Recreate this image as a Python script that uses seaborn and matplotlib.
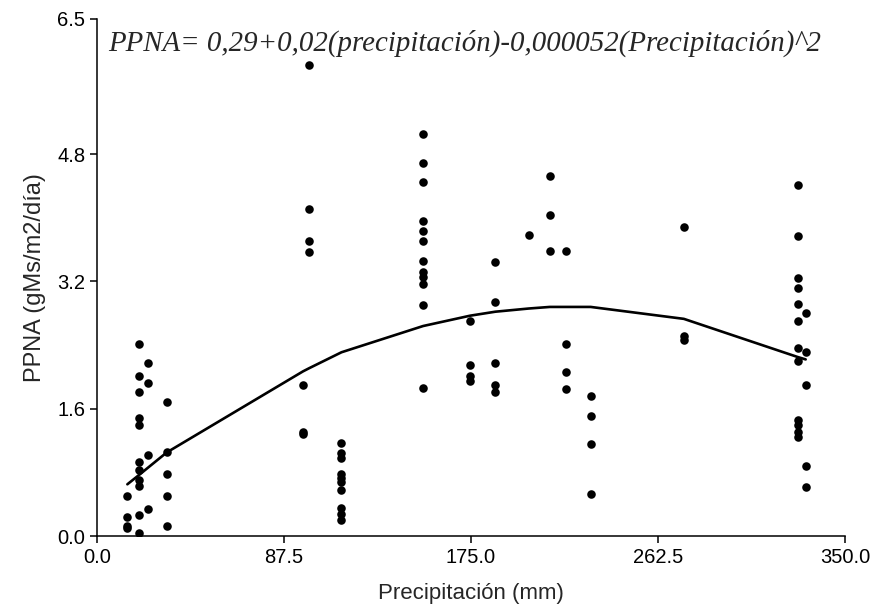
import matplotlib
matplotlib.use("Agg")
import matplotlib.pyplot as plt
import seaborn as sns
import pandas as pd

# ---- data ----
precip_groups = [14.2, 19.8, 23.9, 32.6, 96.4, 99.3, 114.4, 152.6, 174.6,
                 186.4, 202.0, 211.9, 219.4, 231.0, 274.6, 327.9, 331.6]
ppna_groups = [
    [0.50, 0.24, 0.13, 0.10],
    [2.41, 2.01, 1.81, 1.48, 1.39, 0.93, 0.83, 0.71, 0.63, 0.27, 0.04],
    [2.18, 1.92, 1.02, 0.34],
    [1.69, 1.05, 0.78, 0.50, 0.12],
    [1.90, 1.31, 1.28],
    [5.92, 4.11, 3.71, 3.57],
    [1.17, 1.04, 0.98, 0.78, 0.73, 0.68, 0.58, 0.35, 0.28, 0.20],
    [5.06, 4.69, 4.45, 3.96, 3.83, 3.71, 3.46, 3.32, 3.26, 3.17, 2.90, 1.86],
    [2.70, 2.15, 2.01, 1.95],
    [3.44, 2.94, 2.17, 1.90, 1.81],
    [3.78],
    [4.53, 4.03, 3.58],
    [3.58, 2.42, 2.06, 1.85],
    [1.76, 1.51, 1.16, 0.53],
    [3.88, 2.51, 2.47],
    [4.41, 3.77, 3.25, 3.12, 2.92, 2.70, 2.36, 2.20, 1.46, 1.40, 1.31, 1.25],
    [2.80, 2.31, 1.90, 0.88, 0.62],
]
fit_ppna = [0.65, 0.77, 0.86, 1.05, 2.07, 2.11, 2.31, 2.64, 2.77, 2.82,
            2.86, 2.88, 2.88, 2.88, 2.73, 2.25, 2.22]

x_ticks = [0.0, 87.5, 175.0, 262.5, 350.0]
y_ticks = [0.0, 1.6, 3.2, 4.8, 6.5]
equation = "PPNA= 0,29+0,02(precipitación)-0,000052(Precipitación)^2"

points = pd.DataFrame({
    "precip": [x for x, ys in zip(precip_groups, ppna_groups) for _ in ys],
    "ppna": [y for ys in ppna_groups for y in ys],
})
fit = pd.DataFrame({"precip": precip_groups, "ppna": fit_ppna})

# ---- figure ----
sns.set_style("ticks")
plt.rcParams["font.family"] = ["Liberation Sans", "DejaVu Sans"]

fig = plt.figure(figsize=(8.75, 6.09), dpi=100)
ax = fig.add_axes([97 / 875, 73 / 609, 748 / 875, 517 / 609])

sns.lineplot(data=fit, x="precip", y="ppna", ax=ax, color="black",
             linewidth=1.9, estimator=None, sort=True)
sns.scatterplot(data=points, x="precip", y="ppna", ax=ax, color="black",
                s=38, edgecolor="black", linewidth=0, zorder=3)

ax.set_xlim(0, 350)
ax.set_ylim(0, 6.5)
ax.set_xticks(x_ticks)
ax.set_xticklabels([f"{v:.1f}" for v in x_ticks])
ax.set_yticks(y_ticks)
ax.set_yticklabels([f"{v:.1f}" for v in y_ticks])
ax.tick_params(axis="both", labelsize=14.5, length=5, width=1.1,
               direction="out", colors="black")
for s in ["top", "right"]:
    ax.spines[s].set_visible(False)
for s in ["left", "bottom"]:
    ax.spines[s].set_linewidth(1.1)
    ax.spines[s].set_color("black")

ax.set_xlabel("Precipitación (mm)", fontsize=16, labelpad=12)
ax.set_ylabel("PPNA (gMs/m2/día)", fontsize=17, labelpad=8)

ax.text(0.015, 0.953, equation, transform=ax.transAxes,
        fontsize=20.8, fontstyle="italic",
        family=["Liberation Serif", "DejaVu Serif"],
        ha="left", va="center")

fig.savefig("out.png", dpi=100)
